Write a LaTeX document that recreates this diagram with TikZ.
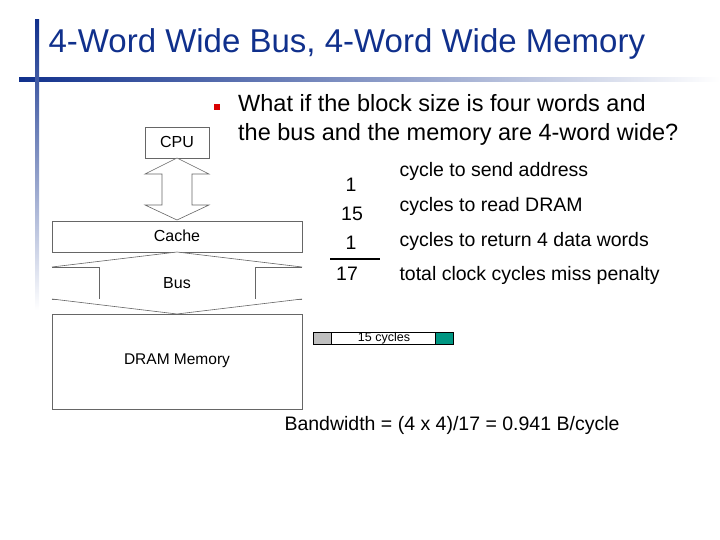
\documentclass[tikz,border=0pt]{standalone}
\usepackage{fontspec}
\setmainfont{Liberation Sans}
\usetikzlibrary{positioning}
\definecolor{titleblue}{RGB}{16,48,140}
\definecolor{barteal}{RGB}{0,150,130}
\tikzset{box/.style={draw=black!60,fill=white,line width=0.6pt},
  lbl/.style={font=\fontsize{16}{18}\selectfont},
  cyc/.style={font=\fontsize{19.5}{21}\selectfont,anchor=west}}
\begin{document}
\begin{tikzpicture}[x=1pt,y=-1pt]
        \useasboundingbox (0,0) rectangle (720,540);
        % title bars
        \shade[left color=titleblue,right color=white] (19,78) rectangle (720,82);
        \shade[top color=titleblue,bottom color=white] (35,20) rectangle (39,310);
        \node[anchor=west,text=titleblue,font=\fontsize{33}{36}\selectfont] (title) at (45,44) {4-Word Wide Bus, 4-Word Wide Memory};
        \fill[red!85!black] (214,104) rectangle (220,110);
        \node[anchor=north west,align=left,font=\fontsize{23.5}{29}\selectfont,inner sep=0] (q) at (238,94) {What if the block size is four words and\\the bus and the memory are 4-word wide?};
        % memory system
        \draw[box] (145,127) rectangle (209,158);
        \node[lbl] (cpu) at (177,142) {CPU};
        \draw[box] (177,158) -- (209,174) -- (192,174) -- (192,205) -- (209,205) -- (177,220)
          -- (145,205) -- (162,205) -- (162,174) -- (145,174) -- cycle;
        \draw[box] (52,221) rectangle (302,252);
        \node[lbl] (cache) at (177,236) {Cache};
        \draw[box] (52,267) -- (177,252) -- (302,267);
        \draw[box] (302,267) -- (255,267) -- (255,299) -- (302,299);
        \draw[box] (52,267) -- (99,267) -- (99,299) -- (52,299);
        \draw[box] (52,299) -- (177,314) -- (302,299);
        \node[lbl] (bus) at (177,283) {Bus};
        \draw[box] (52,314) rectangle (302,409);
        \node[font=\fontsize{15.5}{17}\selectfont] (dram) at (177,361) {DRAM Memory};
        % cycle count
        \node[cyc,anchor=center] (n1) at (351,185) {1};
        \node[cyc,anchor=center] (n2) at (352,214) {15};
        \node[cyc,anchor=center] (n3) at (351,243) {1};
        \draw[line width=1.2pt] (330,259) -- (380,259);
        \node[cyc,anchor=center] (n4) at (347,274) {17};
        \node[cyc] (t1) at (396,171) {cycle to send address};
        \node[cyc] (t2) at (396,206) {cycles to read DRAM};
        \node[cyc] (t3) at (396,241) {cycles to return 4 data words};
        \node[cyc] (t4) at (396,275) {total clock cycles miss penalty};
        % timing bar
        \draw[fill=white,line width=0.8pt] (313,332) rectangle (453,344);
        \draw[fill=black!25,line width=0.8pt] (313,332) rectangle (331,344);
        \draw[fill=barteal,line width=0.8pt] (435,332) rectangle (453,344);
        \node[font=\fontsize{12.5}{13}\selectfont,inner sep=0] (bar) at (384,338) {15 cycles};
        \node[font=\fontsize{19.5}{21}\selectfont] (bw) at (452,425) {Bandwidth = (4 x 4)/17 = 0.941 B/cycle};
\end{tikzpicture}
\end{document}
